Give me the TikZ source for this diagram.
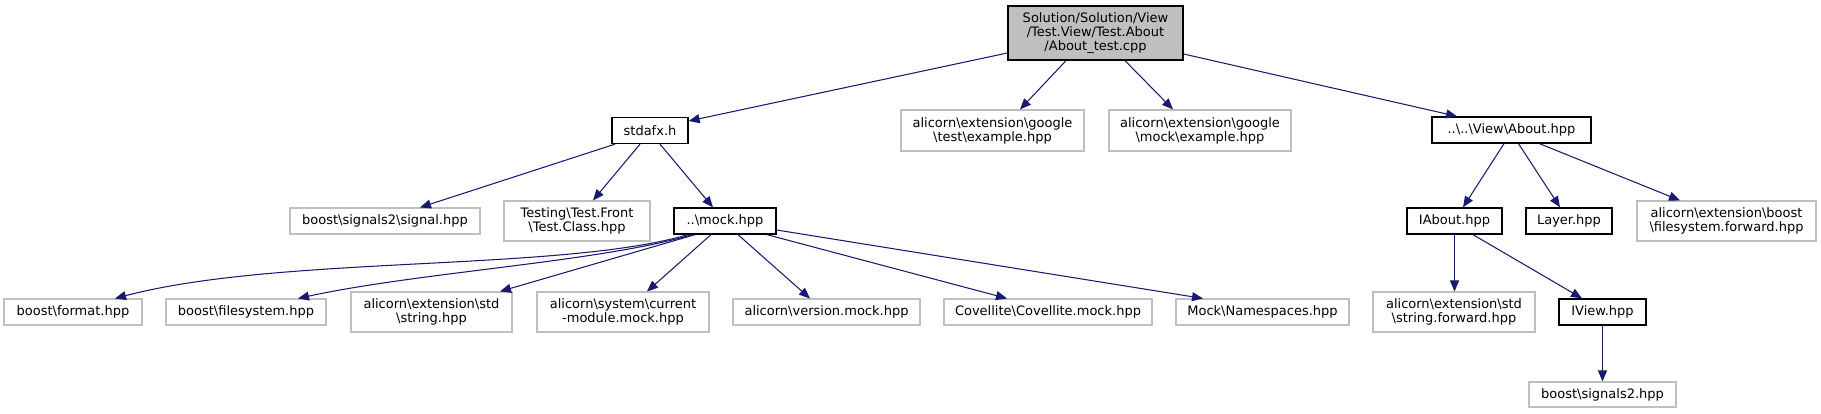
\documentclass[tikz,border=0pt]{standalone}
\usepackage{fontspec}
\setmainfont{DejaVu Sans}
\usetikzlibrary{arrows.meta,calc}
\definecolor{edgeblue}{HTML}{191970}
\definecolor{undoc}{HTML}{BFBFBF}
\newcommand{\bs}{\textbackslash}
\begin{document}
\begin{tikzpicture}[x=1pt,y=-1pt,
  box/.style={draw=black,line width=1.3pt,fill=white,rectangle,inner sep=0pt,align=center,font=\fontsize{13}{14}\selectfont},
  ubox/.style={box,draw=undoc,line width=1.1pt},
  rootbox/.style={box,fill=undoc},
  edge/.style={draw=edgeblue,line width=1.05pt,-{Triangle[length=11pt,width=9pt]}}]
\fill[white] (0,0) rectangle (1821,413);
\useasboundingbox (0,0) rectangle (1821,413);
% row 1
\node[rootbox,minimum width=175pt,minimum height=54pt] (root) at (1095.5,33) {Solution/Solution/View\\/Test.View/Test.About\\/About\_test.cpp};
% row 2
\node[box,minimum width=76pt,minimum height=26pt] (stdafx) at (650,130.5) {stdafx.h};
\node[ubox,minimum width=183pt,minimum height=41pt] (gtest) at (992.5,130.5) {alicorn\bs extension\bs google\\\bs test\bs example.hpp};
\node[ubox,minimum width=182pt,minimum height=41pt] (gmock) at (1200,130.5) {alicorn\bs extension\bs google\\\bs mock\bs example.hpp};
\node[box,minimum width=159pt,minimum height=26pt] (about) at (1511.5,130) {..\bs ..\bs View\bs About.hpp};
% row 3
\node[ubox,minimum width=190pt,minimum height=26pt] (signal) at (385,221) {boost\bs signals2\bs signal.hpp};
\node[ubox,minimum width=146pt,minimum height=40pt] (testfront) at (577,221) {Testing\bs Test.Front\\\bs Test.Class.hpp};
\node[box,minimum width=102pt,minimum height=26pt] (mock) at (725,221) {..\bs mock.hpp};
\node[box,minimum width=95pt,minimum height=26pt] (iabout) at (1454.5,221) {IAbout.hpp};
\node[box,minimum width=86pt,minimum height=26pt] (layer) at (1569,221) {Layer.hpp};
\node[ubox,minimum width=179pt,minimum height=40pt] (fsfwd) at (1726.5,221) {alicorn\bs extension\bs boost\\\bs filesystem.forward.hpp};
% row 4
\node[ubox,minimum width=138pt,minimum height=26pt] (format) at (73,312) {boost\bs format.hpp};
\node[ubox,minimum width=160pt,minimum height=26pt] (filesystem) at (246,312) {boost\bs filesystem.hpp};
\node[ubox,minimum width=161pt,minimum height=40pt] (string) at (431.5,312) {alicorn\bs extension\bs std\\\bs string.hpp};
\node[ubox,minimum width=172pt,minimum height=40pt] (curmod) at (623,312) {alicorn\bs system\bs current\\-module.mock.hpp};
\node[ubox,minimum width=187pt,minimum height=26pt] (version) at (826.5,312) {alicorn\bs version.mock.hpp};
\node[ubox,minimum width=208pt,minimum height=26pt] (covellite) at (1048,312) {Covellite\bs Covellite.mock.hpp};
\node[ubox,minimum width=173pt,minimum height=26pt] (namespaces) at (1262.5,312) {Mock\bs Namespaces.hpp};
\node[ubox,minimum width=162pt,minimum height=40pt] (stringfwd) at (1454,312) {alicorn\bs extension\bs std\\\bs string.forward.hpp};
\node[box,minimum width=87pt,minimum height=26pt] (iview) at (1602.5,312) {IView.hpp};
% row 5
\node[ubox,minimum width=147pt,minimum height=25pt] (signals2) at (1602.5,394.5) {boost\bs signals2.hpp};
% edges
\draw[edge] ($(root.west)+(0,20)$) -- ($(stdafx.east)+(0,-9.5)$);
\draw[edge] ($(root.south)+(-29.5,0)$) -- ($(gtest.north)+(27.5,0)$);
\draw[edge] ($(root.south)+(29.5,0)$) -- ($(gmock.north)+(-27,0)$);
\draw[edge] ($(root.east)+(0,21)$) -- ($(about.north)+(-54.5,0)$);
\draw[edge] ($(stdafx.south)+(-35,0)$) -- ($(signal.north)+(35,0)$);
\draw[edge] ($(stdafx.south)+(-10,0)$) -- ($(testfront.north)+(16,0)$);
\draw[edge] ($(stdafx.south)+(10,0)$) -- ($(mock.north)+(-12,0)$);
\draw[edge] ($(about.south)+(-7.5,0)$) -- ($(iabout.north)+(8.5,0)$);
\draw[edge] ($(about.south)+(7,0)$) -- ($(layer.north)+(-9,0)$);
\draw[edge] ($(about.south)+(28,0)$) -- ($(fsfwd.north)+(-46.5,0)$);
\draw[edge] (iabout.south) -- (iabout.south |- stringfwd.north);
\draw[edge] ($(iabout.south)+(18.5,0)$) -- ($(iview.north)+(-20.5,0)$);
\draw[edge] (iview.south) -- (signals2.north);
\draw[edge] ($(mock.south)+(-37,0)$) .. controls (560,272) and (280,255) .. ($(format.north)+(42,0)$);
\draw[edge] ($(mock.south)+(-33,0)$) .. controls (600,262) and (420,272) .. ($(filesystem.north)+(52,0)$);
\draw[edge] ($(mock.south)+(-30,0)$) -- ($(string.north)+(68.5,0)$);
\draw[edge] ($(mock.south)+(-14,0)$) -- ($(curmod.north)+(24,0)$);
\draw[edge] ($(mock.south)+(13,0)$) -- ($(version.north)+(-16.5,0)$);
\draw[edge] ($(mock.south)+(42,0)$) -- ($(covellite.north)+(-41,0)$);
\draw[edge] ($(mock.east)+(0,9)$) -- ($(namespaces.north)+(-59.5,0)$);
\end{tikzpicture}
\end{document}
